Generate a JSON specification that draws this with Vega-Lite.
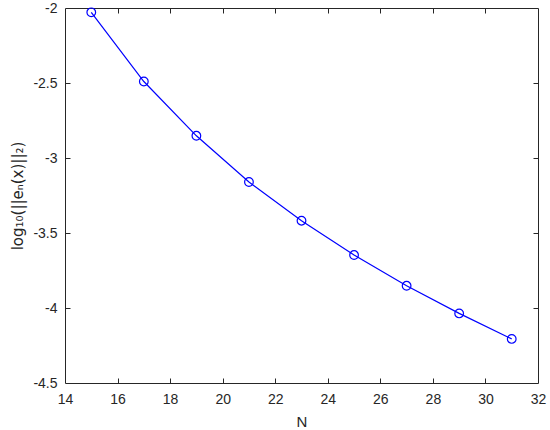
{
  "$schema": "https://vega.github.io/schema/vega-lite/v6.json",
  "width": 473,
  "height": 375,
  "autosize": "none",
  "padding": {"left": 65, "top": 8, "right": 12, "bottom": 47},
  "background": "white",
  "config": {
    "view": {"stroke": null},
    "axis": {
      "domainColor": "#262626",
      "tickColor": "#262626",
      "labelColor": "#262626",
      "titleColor": "#262626",
      "labelFont": "Liberation Sans",
      "titleFont": "DejaVu Sans",
      "labelFontSize": 14,
      "titleFontSize": 15,
      "titleFontWeight": "normal",
      "grid": false,
      "tickSize": 5,
      "domainWidth": 1,
      "tickWidth": 1
    }
  },
  "data": {
    "values": [
      {"N": 15, "err": -2.029},
      {"N": 17, "err": -2.490},
      {"N": 19, "err": -2.852},
      {"N": 21, "err": -3.160},
      {"N": 23, "err": -3.418},
      {"N": 25, "err": -3.647},
      {"N": 27, "err": -3.852},
      {"N": 29, "err": -4.036},
      {"N": 31, "err": -4.206}
    ]
  },
  "resolve": {"axis": {"x": "independent", "y": "independent"}},
  "layer": [
    {
      "mark": {"type": "line", "color": "#0000FF", "strokeWidth": 1.2},
      "encoding": {
        "x": {"field": "N", "type": "quantitative",
              "scale": {"domain": [14, 32], "nice": false, "zero": false},
              "axis": {"values": [14,16,18,20,22,24,26,28,30,32], "title": "N", "titleFont": "Liberation Sans", "ticks": false, "labelPadding": 9, "titlePadding": 8, "labelFlush": false, "labelExpr": "toString(datum.value)"}},
        "y": {"field": "err", "type": "quantitative",
              "scale": {"domain": [-4.5, -2], "nice": false, "zero": false},
              "axis": {"values": [-4.5,-4,-3.5,-3,-2.5,-2], "title": "log₁₀(||eₙ(x)||₂)", "ticks": false, "labelPadding": 8, "titlePadding": 7, "labelFlush": false, "labelExpr": "toString(datum.value)"}}
      }
    },
    {
      "mark": {"type": "point", "shape": "circle", "filled": false, "color": "#0000FF", "size": 75, "strokeWidth": 1.2, "opacity": 1},
      "encoding": {
        "x": {"field": "N", "type": "quantitative",
              "axis": {"orient": "top", "values": [14,16,18,20,22,24,26,28,30,32], "labels": false, "ticks": false, "title": null}},
        "y": {"field": "err", "type": "quantitative",
              "axis": {"orient": "right", "values": [-4.5,-4,-3.5,-3,-2.5,-2], "labels": false, "ticks": false, "title": null}}
      }
    },
    {
      "mark": {"type": "point", "opacity": 0},
      "encoding": {
        "x": {"field": "N", "type": "quantitative",
              "axis": {"orient": "top", "offset": -375, "values": [16,18,20,22,24,26,28,30], "labels": false, "domain": false, "title": null}},
        "y": {"field": "err", "type": "quantitative",
              "axis": {"orient": "right", "offset": -473, "values": [-4,-3.5,-3,-2.5], "labels": false, "domain": false, "title": null}}
      }
    },
    {
      "mark": {"type": "point", "opacity": 0},
      "encoding": {
        "x": {"field": "N", "type": "quantitative",
              "axis": {"orient": "bottom", "offset": -375, "values": [16,18,20,22,24,26,28,30], "labels": false, "domain": false, "title": null}},
        "y": {"field": "err", "type": "quantitative",
              "axis": {"orient": "left", "offset": -473, "values": [-4,-3.5,-3,-2.5], "labels": false, "domain": false, "title": null}}
      }
    }
  ]
}
